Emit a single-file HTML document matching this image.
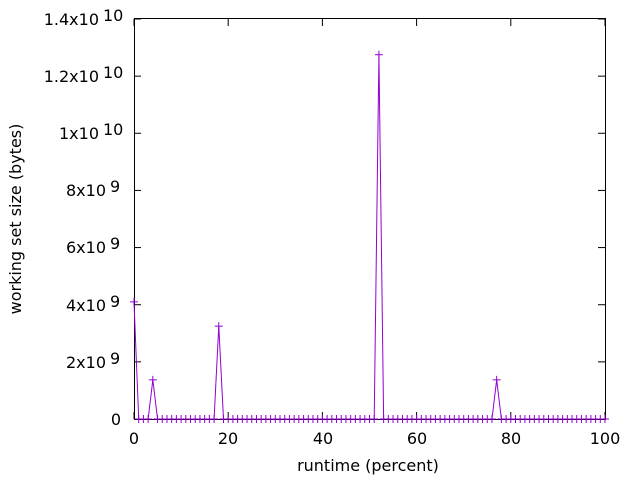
<!DOCTYPE html><html><head><style>body{margin:0;background:#fff}svg{display:block}text{font-family:"DejaVu Sans",sans-serif;font-size:16px;fill:#000}</style></head><body>
<svg id="s" width="640" height="480" xmlns="http://www.w3.org/2000/svg">
<rect x="134.5" y="18.5" width="471" height="401" fill="none" stroke="#000" stroke-width="1"/>
<g id="t" stroke="#000"></g>
<g text-anchor="end">
<text x="121" y="425">0</text>
<text x="106" y="368">2x10</text><text x="110" y="364" font-size="13" text-anchor="start">9</text>
<text x="106" y="311">4x10</text><text x="110" y="307" font-size="13" text-anchor="start">9</text>
<text x="106" y="253">6x10</text><text x="110" y="249" font-size="13" text-anchor="start">9</text>
<text x="106" y="196">8x10</text><text x="110" y="192" font-size="13" text-anchor="start">9</text>
<text x="99" y="139">1x10</text><text x="103" y="135" font-size="13" text-anchor="start">10</text>
<text x="99" y="82">1.2x10</text><text x="103" y="78" font-size="13" text-anchor="start">10</text>
<text x="99" y="25">1.4x10</text><text x="103" y="21" font-size="13" text-anchor="start">10</text>
</g>
<g text-anchor="middle">
<text x="134" y="444">0</text><text x="228" y="444">20</text><text x="323" y="444">40</text><text x="417" y="444">60</text><text x="511" y="444">80</text><text x="605" y="444">100</text>
<text x="368" y="471">runtime (percent)</text>
<text transform="translate(21,219) rotate(-90)">working set size (bytes)</text>
</g>
<polyline id="l" fill="none" stroke="#9400d3" stroke-width="1"/>
<g id="p" stroke="#9400d3" stroke-width="1"></g>
</svg>
<script>
var t=document.getElementById('t'),h='';
for(var i=0;i<=7;i++){var y=419-i*400/7;h+='<line x1="134" x2="141" y1="'+y+'" y2="'+y+'"/><line x1="605" x2="598" y1="'+y+'" y2="'+y+'"/>';}
for(var i=0;i<=5;i++){var x=134+i*94.2;h+='<line x1="'+x+'" x2="'+x+'" y1="419" y2="412"/><line x1="'+x+'" x2="'+x+'" y1="19" y2="26"/>';}
t.innerHTML=h;
var v={0:4.1e9,4:1.37e9,18:3.25e9,52:12.75e9,77:1.37e9},pts=[],ph='';
for(var i=0;i<=100;i++){var x=134+i*4.71,y=419-(v[i]||0)*400/1.4e10;pts.push(x+','+y);ph+='<line x1="'+(x-4)+'" x2="'+(x+4)+'" y1="'+y+'" y2="'+y+'"/><line x1="'+x+'" x2="'+x+'" y1="'+(y-4)+'" y2="'+(y+4)+'"/>';}
document.getElementById('l').setAttribute('points',pts.join(' '));
document.getElementById('p').innerHTML=ph;
</script>
</body></html>
